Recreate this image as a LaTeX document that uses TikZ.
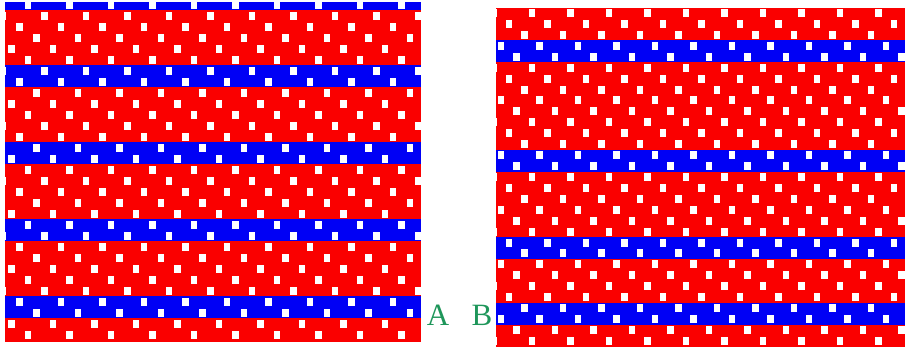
\documentclass[tikz,border=0pt]{standalone}
\usepackage{fontspec}
\setmainfont{Liberation Serif}
\definecolor{lred}{RGB}{250,0,0}
\definecolor{lblue}{RGB}{0,0,245}
\definecolor{lgreen}{RGB}{30,150,90}
\tikzset{
  dot/.style={fill=white},
  band/.style={fill=lblue},
  bg/.style={fill=lred},
  lbl/.style={text=lgreen, inner sep=0pt, font=\fontsize{31}{31}\selectfont}
}
\begin{document}
\begin{tikzpicture}[x=1pt,y=-1pt]
\useasboundingbox (0,0) rectangle (905,347);
\fill[white] (0,0) rectangle (905,347);
% ---------- left panel ----------
\begin{scope}
  \clip (5,3) rectangle (421,342);
  \fill[bg] (5,3) rectangle (421,342);
  \foreach \j in {0,...,4} {
    \pgfmathsetmacro{\yc}{5+11*(7*\j-0.5)}
    \fill[band] (5,\yc-11) rectangle (421,\yc+11);
  }
  \foreach \k in {-1,...,31} {
    \pgfmathsetmacro{\yy}{5+11*\k}
    \pgfmathsetmacro{\xbase}{28-41.5+41.5*mod(0.4*\k+100,1)}
    \foreach \m in {-1,...,11} {
      \fill[dot] ({\xbase+41.5*\m-3.25},{\yy-4}) rectangle ++(6.5,8);
    }
  }
\end{scope}
% ---------- right panel ----------
\begin{scope}
  \clip (496,8) rectangle (905,347);
  \fill[bg] (496,8) rectangle (905,347);
  \foreach \a in {3,13,21,27} {
    \pgfmathsetmacro{\yc}{13+10.93*(\a+0.5)}
    \fill[band] (496,\yc-11) rectangle (905,\yc+11);
  }
  \foreach \k in {-1,...,31} {
    \pgfmathsetmacro{\yy}{13+10.93*\k}
    \pgfmathsetmacro{\xbase}{532-38.5+38.5*mod(0.4*\k+100,1)}
    \foreach \m in {-1,...,11} {
      \fill[dot] ({\xbase+38.5*\m-3.25},{\yy-4}) rectangle ++(6.5,8);
    }
  }
\end{scope}
% ---------- labels ----------
\node[lbl] (A) at (438,315) {A};
\node[lbl] (B) at (482,315) {B};
\end{tikzpicture}
\end{document}
